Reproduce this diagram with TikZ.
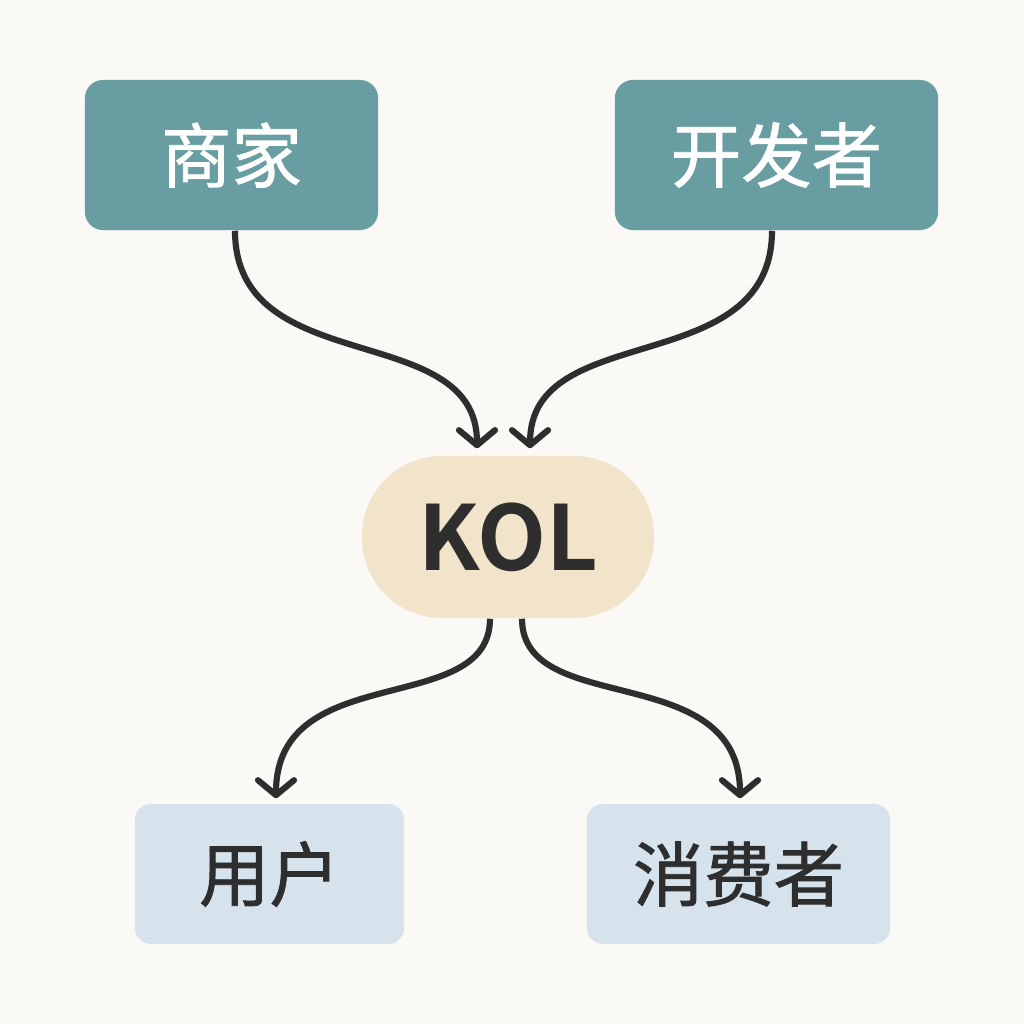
\documentclass[tikz,border=0pt]{standalone}
\usepackage{fontspec}
\newfontfamily\cjk{Noto Sans CJK SC}[AutoFakeBold=1.2]
\usetikzlibrary{arrows.meta}
\definecolor{bgcol}{HTML}{FAF9F6}
\definecolor{tealcol}{HTML}{689DA1}
\definecolor{sandcol}{HTML}{F2E4CB}
\definecolor{skycol}{HTML}{D6E2EC}
\definecolor{inkcol}{HTML}{2E2E2E}
\tikzset{
  topbox/.style={fill=tealcol, rounded corners=0.18cm, minimum height=1.5cm,
    text=white, font=\cjk\bfseries\fontsize{20}{24}\selectfont},
  lowbox/.style={fill=skycol, rounded corners=0.16cm, minimum height=1.4cm,
    text=inkcol, font=\cjk\bfseries\fontsize{20}{24}\selectfont},
  hub/.style={fill=sandcol, rounded corners=0.8cm, minimum width=2.92cm, minimum height=1.62cm,
    text=inkcol, font=\fontspec{Noto Sans CJK SC Bold}\fontsize{25.5}{30}\selectfont},
  flow/.style={draw=inkcol, line width=1.75pt,
    -{Straight Barb[length=0.15cm, width=0.36cm, round]}}
}
\begin{document}
\begin{tikzpicture}[x=0.01cm, y=-0.01cm]
  % Background
  \fill[bgcol] (0,0) rectangle (1024,1024);
  \useasboundingbox (0,0) rectangle (1024,1024);

  % Nodes
  \node[topbox, minimum width=2.93cm] (merchant) at (231.5,155) {商家};
  \node[topbox, minimum width=3.23cm] (developer) at (776.5,155) {开发者};
  \node[hub] (kol) at (508,537) {KOL};
  \node[lowbox, minimum width=2.69cm] (user) at (269.5,874) {用户};
  \node[lowbox, minimum width=3.03cm] (consumer) at (738.5,874) {消费者};

  % Arrows into KOL
  \draw[flow] ([xshift=0.035cm]merchant.south) .. controls +(0,150) and +(0,-130) .. ([xshift=-0.31cm, yshift=0.07cm]kol.north);
  \draw[flow] ([xshift=-0.045cm]developer.south) .. controls +(0,150) and +(0,-130) .. ([xshift=0.22cm, yshift=0.07cm]kol.north);

  % Arrows out of KOL
  \draw[flow] ([xshift=-0.18cm]kol.south) .. controls +(0,100) and +(0,-140) .. ([xshift=0.065cm, yshift=0.05cm]user.north);
  \draw[flow] ([xshift=0.14cm]kol.south) .. controls +(0,100) and +(0,-140) .. ([xshift=0.015cm, yshift=0.05cm]consumer.north);
\end{tikzpicture}
\end{document}
